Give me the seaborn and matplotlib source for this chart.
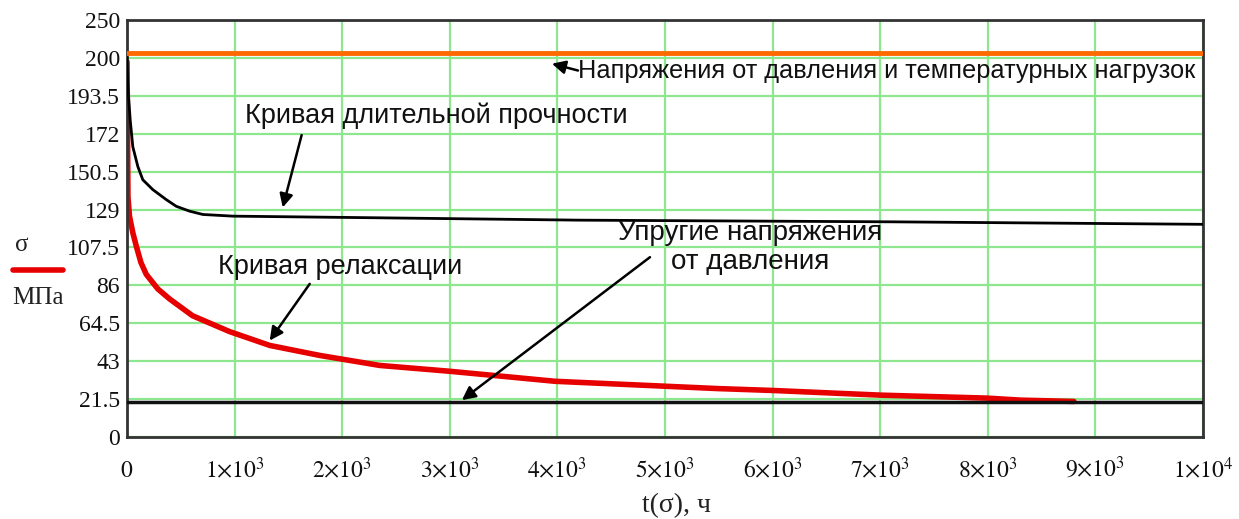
import numpy as np
import pandas as pd
import matplotlib
matplotlib.use("Agg")
import matplotlib.pyplot as plt
import seaborn as sns
from matplotlib.lines import Line2D

# ---- data (axis units: 0..250, 11 equal grid intervals) ----
t_strength = [0, 8, 30, 54, 101, 147, 240, 365, 458, 581, 705, 984, 2350, 4200, 7100, 10000]
s_strength = [227.5, 209.7, 189.9, 174.0, 162.1, 154.2, 148.3, 142.3, 138.3, 135.4, 133.4, 132.4, 131.4, 130.0, 129.0, 127.5]

t_relax = [0, 3, 5, 7, 9, 23, 54, 86, 130, 179, 286, 395, 609, 953, 1326, 1791, 2349, 3000,
           3977, 4981, 5500, 6000, 7000, 7995, 8302, 8800]
s_relax = [225, 202, 182, 162, 144, 132.4, 122.5, 114.5, 104.5, 97.5, 88.8, 82.8, 72.7, 63.2, 54.9,
           48.9, 42.9, 39.4, 33.4, 30.5, 29.0, 27.9, 25.1, 23.3, 22.1, 21.3]

t_const = [0, 10000]
s_total = [230.0, 230.0]      # pressure + temperature stresses
s_elastic = [21.0, 21.0]      # elastic stresses from pressure

ytick_labels = ["0", "21.5", "43", "64.5", "86", "107.5", "129", "150.5", "172", "193.5", "200", "250"]
xtick_values = [0, 1000, 2000, 3000, 4000, 5000, 6000, 7000, 8000, 9000, 10000]
xtick_labels = [r"$0$"] + [r"$%d{\times}10^{3}$" % i for i in range(1, 10)] + [r"$1{\times}10^{4}$"]

# ---- style ----
sns.set_style("white")
plt.rcParams["font.family"] = ["Liberation Serif", "DejaVu Serif"]
plt.rcParams["mathtext.fontset"] = "stix"

fig = plt.figure(figsize=(12.39, 5.19), dpi=100)
ax = fig.add_axes([0.1025, 0.158, 0.8685, 0.8035])

grid_green = "#8ee68e"
ax.set_xlim(0, 10000)
ax.set_ylim(0, 250)
yt = np.linspace(0, 250, 12)
ax.set_yticks(yt)
ax.set_yticklabels(ytick_labels)
ax.set_xticks(xtick_values)
ax.set_xticklabels(xtick_labels)
ax.grid(True, color=grid_green, linewidth=1.6, zorder=0)
ax.set_axisbelow(True)
ax.tick_params(axis="both", length=0, labelsize=17, colors="#111111")
ax.tick_params(axis="x", pad=29)
ax.tick_params(axis="y", pad=5)
for lab in ax.get_xticklabels():
    lab.set_verticalalignment("baseline")
for sp in ax.spines.values():
    sp.set_color("#333333")
    sp.set_linewidth(2)

sns.lineplot(x=t_const, y=s_total, ax=ax, color="#ff6a00", linewidth=3.5, zorder=3)
sns.lineplot(x=t_relax, y=s_relax, ax=ax, color="#e60000", linewidth=4, zorder=2, sort=False, estimator=None)
sns.lineplot(x=t_strength, y=s_strength, ax=ax, color="black", linewidth=2, zorder=4, sort=False, estimator=None)
sns.lineplot(x=t_const, y=s_elastic, ax=ax, color="#111111", linewidth=2.5, zorder=5)
ax.set_xlabel("")
ax.set_ylabel("")

# ---- annotations ----
sans = ["Liberation Sans", "DejaVu Sans"]
fs = 19.5
ap = dict(arrowstyle="-|>", color="black", lw=1.8, mutation_scale=20, shrinkA=0, shrinkB=0)

ax.text(4191, 219.7, "Напряжения от давления и температурных нагрузок", family=sans,
        fontsize=18.3, ha="left", va="center", color="#111111", zorder=6)
ax.annotate("", xy=(3949, 223.8), xytext=(4191, 219.7), arrowprops=ap, zorder=6)

ax.text(2879, 192.3, "Кривая длительной прочности", family=sans, fontsize=fs,
        ha="center", va="center", color="#111111", zorder=6)
ax.annotate("", xy=(1447, 137.6), xytext=(1623, 181.0), arrowprops=ap, zorder=6)

ax.text(1977, 101.9, "Кривая релаксации", family=sans, fontsize=fs,
        ha="center", va="center", color="#111111", zorder=6)
ax.annotate("", xy=(1326, 57.8), xytext=(1698, 91.8), arrowprops=ap, zorder=6)

ax.text(5790, 113.5, "Упругие напряжения\nот давления", family=sans, fontsize=20,
        ha="center", va="center", multialignment="center", linespacing=1.15,
        color="#111111", zorder=6)
ax.annotate("", xy=(3112, 22.1), xytext=(4860, 107.8), arrowprops=ap, zorder=6)

# ---- axis labels (Mathcad style) ----
fig.text(676 / 1239, 1 - 506 / 519, "t(σ), ч", fontsize=20, ha="center", va="center", color="#222222")
fig.text(22 / 1239, 1 - 245 / 519, "σ", fontsize=18, ha="center", va="center", color="#222222")
fig.add_artist(Line2D([13 / 1239, 63 / 1239], [1 - 270 / 519, 1 - 270 / 519],
                      transform=fig.transFigure, color="#e60000", linewidth=4))
fig.text(38 / 1239, 1 - 298 / 519, "МПа", fontsize=18, ha="center", va="center", color="#222222")

fig.savefig("out.png", dpi=100)
